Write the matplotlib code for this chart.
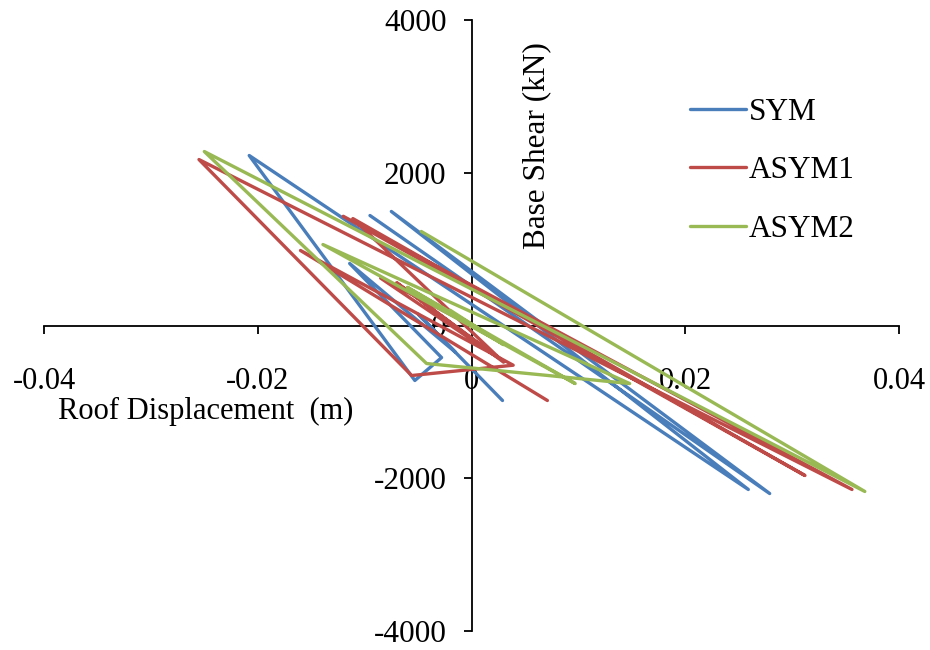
import matplotlib
matplotlib.use("Agg")
import matplotlib.pyplot as plt
from matplotlib.ticker import FixedLocator, FixedFormatter

plt.rcParams['font.family'] = ['Liberation Serif', 'DejaVu Serif']
plt.rcParams['axes.unicode_minus'] = False

# Roof displacement (m) / base shear (kN) histories for the three models
sym_disp = [-0.0095, 0.0279, -0.0075, 0.0259, -0.0208, -0.0053, -0.0028,
            -0.0114, -0.0015, -0.0050, 0.0029]
sym_shear = [1440, -2200, 1493, -2147, 2226, -720, -420,
             812, -350, 150, -982]

asym1_disp = [0.0000, -0.0085, 0.0025, -0.0070, 0.0030, -0.0111, 0.0312, -0.0120,
              0.0356, -0.0255, -0.0056, 0.0039, -0.0160, 0.0071]
asym1_shear = [0, 620, -420, 560, -480, 1400, -1964, 1430,
               -2147, 2173, -655, -520, 982, -982]

asym2_disp = [-0.0047, 0.0368, -0.0250, -0.0042, 0.0148, -0.0139, 0.0097,
              -0.0060, 0.0030, -0.0020]
asym2_shear = [1231, -2173, 2278, -498, -760, 1060, -760,
               500, -250, 200]

series_names = ['SYM', 'ASYM1', 'ASYM2']
series_colors = ['#4A7EBB', '#BE4B48', '#98B954']

x_ticks = [-0.04, -0.02, 0, 0.02, 0.04]
x_tick_labels = ['-0.04', '-0.02', '0', '0.02', '0.04']
y_ticks = [-4000, -2000, 0, 2000, 4000]
y_tick_labels = ['-4000', '-2000', '0', '2000', '4000']

W, H = 930, 650
fig = plt.figure(figsize=(W / 100, H / 100), dpi=100)
ax = fig.add_axes([44 / W, 19 / H, 855 / W, 611 / H])

for xs, ys, name, col in zip([sym_disp, asym1_disp, asym2_disp],
                             [sym_shear, asym1_shear, asym2_shear],
                             series_names, series_colors):
    ax.plot(xs, ys, color=col, lw=2.4, label=name, zorder=2.7,
            solid_joinstyle='round', solid_capstyle='round')

ax.set_xlim(-0.04, 0.04)
ax.set_ylim(-4000, 4000)

for side in ['top', 'right']:
    ax.spines[side].set_visible(False)
ax.spines['left'].set_position(('data', 0))
ax.spines['bottom'].set_position(('data', 0))
for side in ['left', 'bottom']:
    ax.spines[side].set_linewidth(1.3)
    ax.spines[side].set_zorder(2.5)

ax.xaxis.set_major_locator(FixedLocator(x_ticks))
ax.xaxis.set_major_formatter(FixedFormatter(x_tick_labels))
ax.yaxis.set_major_locator(FixedLocator(y_ticks))
ax.yaxis.set_major_formatter(FixedFormatter(y_tick_labels))

ax.tick_params(axis='x', direction='out', length=6, width=1.3, pad=24, labelsize=22)
ax.tick_params(axis='y', direction='out', length=6, width=1.3, pad=12, labelsize=22.5)

fig.text(58 / W, 1 - 411 / H, 'Roof Displacement  (m)', fontsize=22,
         ha='left', va='center')
fig.text(537 / W, 1 - 146 / H, 'Base Shear (kN)', fontsize=22.5, rotation=90,
         ha='center', va='center')

ax.legend(loc='upper left', bbox_to_anchor=(690 / W, 1 - 98 / H),
          bbox_transform=fig.transFigure, frameon=False, fontsize=22.5,
          handlelength=1.8, handletextpad=0.08, labelspacing=0.94,
          borderpad=0, borderaxespad=0)

fig.savefig('out.png', dpi=100)
